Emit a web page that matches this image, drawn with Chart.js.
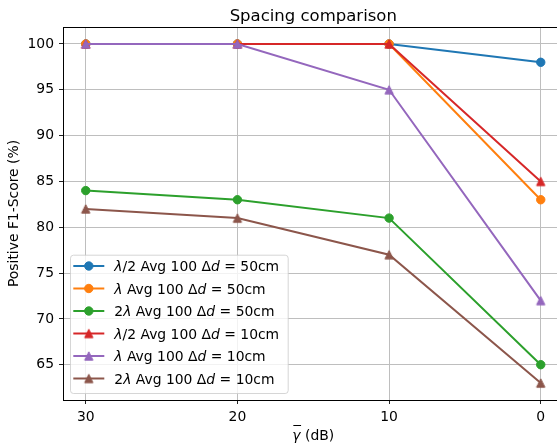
<!DOCTYPE html>
<html><head><meta charset="utf-8">
<script src="https://cdn.jsdelivr.net/npm/chart.js@4"></script>
<style>html,body{margin:0;padding:0;overflow:hidden;background:#fff;width:557px;height:447px}canvas{display:block}</style>
</head><body>
<canvas id="c" width="580" height="447"></canvas>
<script>
const categories = [30, 20, 10, 0];
const seriesLabels = [
  "λ/2 Avg 100 Δd = 50cm",
  "λ Avg 100 Δd = 50cm",
  "2λ Avg 100 Δd = 50cm",
  "λ/2 Avg 100 Δd = 10cm",
  "λ Avg 100 Δd = 10cm",
  "2λ Avg 100 Δd = 10cm"
];
const lambdaHalf50 = [100, 100, 100, 98];
const lambda50     = [100, 100, 100, 83];
const twoLambda50  = [84, 83, 81, 65];
const lambdaHalf10 = [100, 100, 100, 85];
const lambda10     = [100, 100, 95, 72];
const twoLambda10  = [82, 81, 77, 63];
const xTicks = [30, 20, 10, 0];
const yTicks = [65, 70, 75, 80, 85, 90, 95, 100];

const seriesValues = [lambdaHalf50, lambda50, twoLambda50, lambdaHalf10, lambda10, twoLambda10];
const colors = ['#1f77b4', '#ff7f0e', '#2ca02c', '#d62728', '#9467bd', '#8c564b'];
const markers = ['circle', 'circle', 'circle', 'tri', 'tri', 'tri'];
const FONT = "'DejaVu Sans', 'Liberation Sans', sans-serif";

function triImage(color) {
  const c = document.createElement('canvas');
  c.width = 12; c.height = 12;
  const g = c.getContext('2d');
  const h = 4.17;
  g.beginPath();
  g.moveTo(6, 6 - h);
  g.lineTo(6 - h, 6 + h);
  g.lineTo(6 + h, 6 + h);
  g.closePath();
  g.fillStyle = color; g.fill();
  g.strokeStyle = color; g.lineWidth = 1; g.lineJoin = 'miter'; g.stroke();
  return c;
}

const datasets = seriesValues.map((vals, i) => {
  const isTri = markers[i] === 'tri';
  return {
    label: seriesLabels[i],
    data: categories.map((x, j) => ({x: x, y: vals[j]})),
    borderColor: colors[i],
    backgroundColor: colors[i],
    borderWidth: 2,
    pointStyle: isTri ? triImage(colors[i]) : 'circle',
    pointRadius: isTri ? 5 : 4.2,
    pointBorderWidth: isTri ? 0 : 1,
    pointBorderColor: colors[i],
    pointBackgroundColor: colors[i],
    tension: 0,
    order: seriesValues.length - i,
    clip: false
  };
});

function segmentsOf(label) {
  const segs = [];
  for (let k = 0; k < label.length; k++) {
    const ch = label[k];
    const it = ch === 'λ' || (ch === 'd' && label[k - 1] === 'Δ');
    if (segs.length && segs[segs.length - 1].it === it) segs[segs.length - 1].t += ch;
    else segs.push({t: ch, it: it});
  }
  return segs;
}

const decor = {
  id: 'decor',
  afterDraw(chart) {
    const ctx = chart.ctx;
    const a = chart.chartArea;
    ctx.save();
    // top spine
    ctx.strokeStyle = '#000'; ctx.lineWidth = 1;
    ctx.beginPath(); ctx.moveTo(a.left, Math.round(a.top) + 0.5); ctx.lineTo(a.right, Math.round(a.top) + 0.5); ctx.stroke();
    // title
    ctx.fillStyle = '#000';
    ctx.font = "16.5px " + FONT;
    ctx.textAlign = 'center'; ctx.textBaseline = 'alphabetic';
    ctx.fillText('Spacing comparison', (a.left + a.right) / 2, 21);
    // y label
    ctx.save();
    ctx.translate(14, (a.top + a.bottom) / 2);
    ctx.rotate(-Math.PI / 2);
    ctx.font = "13.9px " + FONT;
    ctx.textAlign = 'center'; ctx.textBaseline = 'middle';
    ctx.fillText('Positive F1-Score (%)', 0, 0);
    ctx.restore();
    // x label
    ctx.font = "italic 13.9px " + FONT;
    const wg = ctx.measureText('γ').width;
    ctx.font = "13.9px " + FONT;
    const wr = ctx.measureText(' (dB)').width;
    const cx = (a.left + a.right) / 2;
    let x0 = cx - (wg + wr) / 2;
    const base = 440;
    ctx.textAlign = 'left';
    ctx.font = "italic 13.9px " + FONT;
    ctx.fillText('γ', x0, base);
    ctx.fillRect(x0 + 1, 425, wg - 0.5, 1);
    ctx.font = "13.9px " + FONT;
    ctx.fillText(' (dB)', x0 + wg, base);
    // legend
    const lx = 70, ly = 254.7, lw = 217.7, lh = 138.3;
    ctx.beginPath();
    ctx.roundRect(lx + 0.5, ly + 0.5, lw, lh, 3);
    ctx.fillStyle = 'rgba(255,255,255,0.8)'; ctx.fill();
    ctx.strokeStyle = 'rgba(204,204,204,0.8)'; ctx.lineWidth = 1; ctx.stroke();
    chart.data.datasets.forEach((ds, i) => {
      const cy = 266 + i * 22.5;
      ctx.strokeStyle = ds.borderColor; ctx.lineWidth = 2;
      ctx.beginPath(); ctx.moveTo(73.3, cy); ctx.lineTo(104.3, cy); ctx.stroke();
      if (markers[i] === 'tri') {
        const img = ds.pointStyle;
        ctx.drawImage(img, 88.8 - img.width / 2, cy - img.height / 2);
      } else {
        ctx.beginPath(); ctx.arc(88.8, cy, 4.2, 0, Math.PI * 2);
        ctx.fillStyle = ds.borderColor; ctx.fill();
        ctx.lineWidth = 1; ctx.stroke();
      }
      let tx = 114.3;
      ctx.fillStyle = '#000';
      segmentsOf(ds.label).forEach(s => {
        ctx.font = (s.it ? 'italic ' : '') + "13.9px " + FONT;
        ctx.fillText(s.t, tx, cy + 5);
        tx += ctx.measureText(s.t).width;
      });
    });
    ctx.restore();
  }
};

new Chart(document.getElementById('c'), {
  type: 'line',
  data: {datasets: datasets},
  options: {
    responsive: false,
    animation: false,
    events: [],
    layout: {padding: {top: 27, right: 16.5, left: 0, bottom: 0}},
    plugins: {legend: {display: false}, title: {display: false}, tooltip: {enabled: false}},
    scales: {
      x: {
        type: 'linear', reverse: true, min: -1.5, max: 31.5,
        afterBuildTicks: s => { s.ticks = xTicks.map(v => ({value: v})); },
        afterFit: s => { s.height = 47; },
        ticks: {font: {family: FONT, size: 13.9}, color: '#000', padding: 5, maxRotation: 0, autoSkip: false, callback: v => String(v)},
        grid: {color: '#bebebe', lineWidth: 1, tickLength: 4, tickColor: '#222', drawTicks: true},
        border: {color: '#000', width: 1}
      },
      y: {
        type: 'linear', min: 61.15, max: 101.85,
        afterBuildTicks: s => { s.ticks = yTicks.map(v => ({value: v})); },
        afterFit: s => { s.width = 63; },
        ticks: {font: {family: FONT, size: 13.9}, color: '#000', padding: 5, autoSkip: false, callback: v => String(v)},
        grid: {color: '#bebebe', lineWidth: 1, tickLength: 4, tickColor: '#222', drawTicks: true},
        border: {color: '#000', width: 1}
      }
    }
  },
  plugins: [decor]
});
</script>
</body></html>
